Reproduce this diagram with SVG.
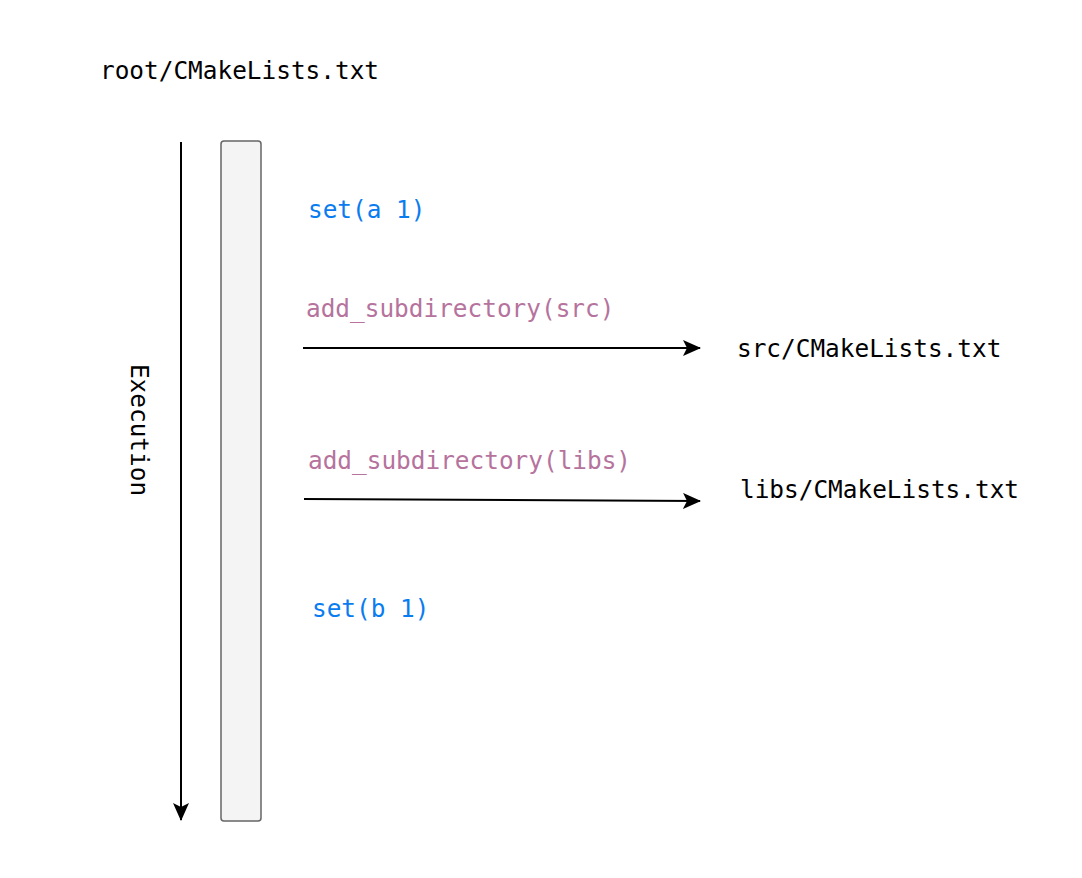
<svg xmlns="http://www.w3.org/2000/svg" width="1082" height="878" viewBox="0 0 1082 878">
<defs>
<style>
text{font-family:"DejaVu Sans Mono","Liberation Mono",monospace;font-size:24.4px}
.k{fill:#000}
.b{fill:#0a7cf0}
.p{fill:#b5739d}
.ln{stroke:#000;stroke-width:2;fill:none}
</style>
<marker id="ah" viewBox="0 0 18 16" refX="17" refY="8" markerWidth="18" markerHeight="16" markerUnits="userSpaceOnUse" orient="auto">
<path d="M0,0 L18,8 L0,16 L4,8 Z" fill="#000"/>
</marker>
</defs>
<rect width="1082" height="878" fill="#fff"/>
<g id="root-label"><text class="k" x="100" y="79">root/CMakeLists.txt</text></g>
<g id="bar"><rect x="221" y="141" width="40" height="680" rx="3" fill="#f4f4f4" stroke="#666" stroke-width="1.5"/></g>
<g id="execution"><text class="k" transform="translate(131,430) rotate(90)" text-anchor="middle">Execution</text></g>
<g id="set-a"><text class="b" x="308" y="218">set(a 1)</text></g>
<g id="add-src"><text class="p" x="306" y="317">add_subdirectory(src)</text></g>
<g id="src-file"><text class="k" x="737" y="357">src/CMakeLists.txt</text></g>
<g id="add-libs"><text class="p" x="308" y="469">add_subdirectory(libs)</text></g>
<g id="libs-file"><text class="k" x="740" y="498">libs/CMakeLists.txt</text></g>
<g id="set-b"><text class="b" x="312" y="617">set(b 1)</text></g>
<g id="connectors">
<line class="ln" x1="181" y1="142" x2="181" y2="820" marker-end="url(#ah)"/>
<line class="ln" x1="303" y1="348" x2="700" y2="348" marker-end="url(#ah)"/>
<line class="ln" x1="304" y1="499" x2="700" y2="501" marker-end="url(#ah)"/>
</g>
</svg>
